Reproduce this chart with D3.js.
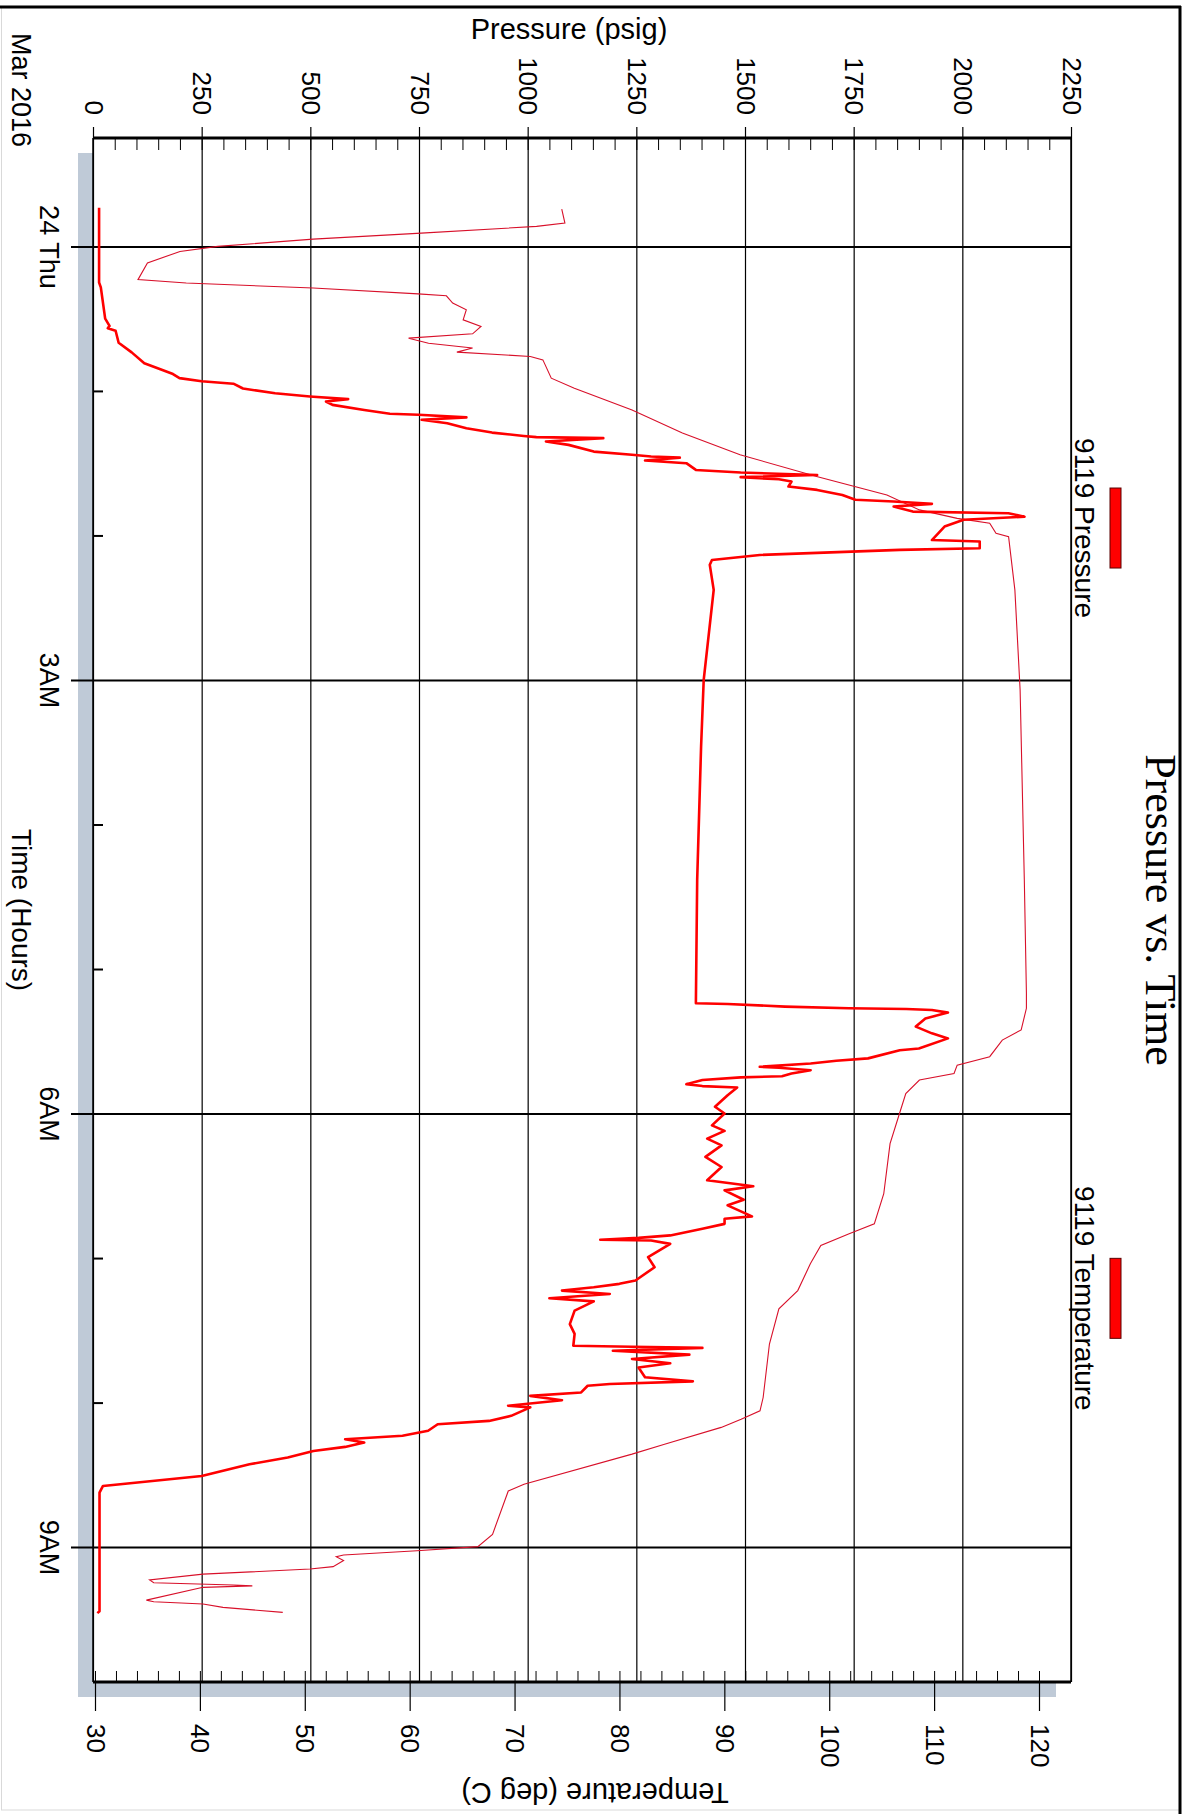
<!DOCTYPE html>
<html>
<head>
<meta charset="utf-8">
<script src="https://cdn.jsdelivr.net/npm/d3@7"></script>
<style>
body{margin:0;background:#fff;}
svg text{font-family:"Liberation Sans",Arial,sans-serif;fill:#000;}
</style>
</head>
<body>
<svg id="chart" width="1199" height="1814"></svg>
<script>
// time = minutes from midnight of 24 Mar 2016 (negative = still 23 Mar)
var pressureTime = [-16,15,17,30,33,34,35,40,44,48.5,51,53,54.7,56,57,59,61,62.3,63.4,64.4,65.8,67.9,69.5,69.9,71,72,73.4,75.5,77.3,78.7,79.2,79.6,81,82.4,85.2,86.5,87.2,87.7,88.9,90,92.8,93.9,94.9,95.8,96.7,97.6,99.7,101.1,103.2,105.2,105.9,106.9,108,110.1,110.8,112.2,113.5,116.3,121.9,122.5,125.3,126,128.1,130.2,132.2,142.6,180,207.5,262.9,314.2,314.5,315.6,316.3,316.6,317,318.1,320.5,323.9,326.7,328.8,333,333.7,337.1,338.1,339.2,340.6,341,342,343.4,344.5,345,346.1,347.8,348.6,349.2,352.4,357.2,360,364.9,367.2,370.4,373.2,378,382.2,387.7,390.2,391.9,395.8,398.1,402.7,403.7,405.8,407.8,410.6,411.6,412.4,412.7,414.1,419.6,423.8,429.3,430.7,432.1,433.5,434.9,436.7,438,441.8,447.4,451.5,456.4,456.8,457.3,458.5,460.1,461.9,463.7,465.4,469.5,471.2,472.3,473,475.8,477.2,479,481.3,482,485.5,487.6,489,491.7,493.8,495.2,496.6,498.4,500.1,502.8,505.6,510.5,514.6,517.4,566.6,567.4];
var pressurePsig = [14,14,18,28,38,34,52,59,89,118,155,184,199,250,323,345,419,499,587,536,551,624,683,749,859,756,815,859,918,991,1020,1174,1042,1094,1152,1240,1284,1350,1270,1365,1387,1490,1666,1490,1578,1607,1600,1666,1724,1754,1842,1930,1842,1886,2106,2143,2003,1959,1930,2040,2040,1856,1534,1424,1419,1428,1405,1399,1390,1387,1460,1592,1739,1871,1930,1967,1915,1893,1930,1967,1900,1856,1783,1710,1651,1534,1578,1651,1607,1585,1490,1402,1365,1402,1482,1460,1431,1453,1424,1453,1413,1446,1409,1446,1413,1519,1453,1497,1460,1516,1453,1453,1402,1328,1255,1167,1284,1328,1277,1292,1248,1211,1152,1079,1189,1050,1152,1108,1097,1108,1105,1240,1402,1196,1372,1240,1328,1255,1270,1380,1189,1138,1123,1006,1079,955,1006,962,911,793,771,712,580,624,580,507,448,360,250,23,15,15,10];

var tempTime = [-15.5,-9.7,-8.3,-5.5,-3,0,2.1,6.9,13.8,15.2,17.3,19.7,20.5,23.5,26.3,30.5,33.2,36.3,38.1,40.2,42.2,43.9,45.7,47.1,54.7,58.9,67.9,77.5,86.5,95.5,103.2,109.4,112.9,114.9,119.1,120.5,142.6,184.2,262.9,310.1,316.3,325.3,329.5,336.4,339.9,343.4,346.1,351.7,360,372.5,393.3,405.8,409.9,414.8,422.4,433.5,441.1,455.7,477.9,483.4,486.9,490.3,497.3,501.4,513.9,516.7,534.7,539.8,541.5,543.3,544,545.6,548.1,549.1,551.2,553.6,554.8,555.7,556.1,556.7,562,562.7,563.6,565,567.1];
var tempDegC = [74.5,74.8,72.1,61.1,50.8,41.7,38.1,35,34.1,38.7,50.8,60.8,63.5,64.1,65.4,65.1,66.8,66,59.9,61.8,66,64.5,71.5,72.7,73.5,75.7,81.2,86,91.5,98.8,105.5,108.6,112.2,115.3,115.9,117.1,117.7,118.2,118.6,118.8,118.8,118.3,116.5,115.3,112.2,111.9,108.6,107.3,106.7,105.8,105.2,104.3,101.9,99.2,98.2,97,95.2,94.3,93.7,93.4,91.6,89.7,84.3,81.2,70.9,69.4,67.9,66.5,60.7,53.7,53,53.7,52.7,50.5,40.3,35.2,35.6,43.2,45,40.3,34.9,35.6,40.3,42.2,47.9];

var timeTicks = [0,180,360,540];
var timeTickLabels = ["24 Thu","3AM","6AM","9AM"];
var hourTicks = [60,120,240,300,420,480];
var pressureTicks = d3.range(0,2251,250);
var tempTicks = d3.range(30,121,10);
var seriesNames = ["9119 Pressure","9119 Temperature"];

var svg = d3.select("#chart");
var pLeft = 93, pRight = 1071, pTop = 138, pBottom = 1682;
var fs = 26;

var xP = d3.scaleLinear().domain([0,2250]).range([pLeft,pRight]);
var xT = d3.scaleLinear().domain([30,120]).range([95,1039]);
var yT = d3.scaleLinear().domain([-45,596]).range([pTop,pBottom]);

// frame
svg.append("rect").attr("x",1.5).attr("y",7).attr("width",1178).attr("height",1803)
	.attr("fill","#fff").attr("stroke","#d9d9d9").attr("stroke-width",1);
svg.append("line").attr("x1",0).attr("x2",1181).attr("y1",7).attr("y2",7)
	.attr("stroke","#000").attr("stroke-width",3);
svg.append("line").attr("x1",1180).attr("x2",1180).attr("y1",6).attr("y2",1814)
	.attr("stroke","#000").attr("stroke-width",3);

// plot shadow + area
svg.append("rect").attr("x",pLeft-15).attr("y",pTop+15).attr("width",pRight-pLeft).attr("height",pBottom-pTop)
	.attr("fill","#bfcad7");
svg.append("rect").attr("x",pLeft).attr("y",pTop).attr("width",pRight-pLeft).attr("height",pBottom-pTop)
	.attr("fill","#fff");

function clean(g){
	g.select(".domain").remove();
	g.attr("font-family",null).attr("font-size",null);
}

// pressure grid lines
svg.append("g").attr("transform","translate(0,"+pTop+")")
	.call(d3.axisBottom(xP).tickValues(pressureTicks).tickSize(pBottom-pTop).tickFormat(""))
	.call(clean)
	.selectAll("line").attr("stroke","#000").attr("stroke-width",1.2);

// time grid lines (with tick out to the left)
svg.append("g").attr("transform","translate("+pRight+",0)")
	.call(d3.axisLeft(yT).tickValues(timeTicks).tickSize(pRight-pLeft+22).tickFormat(""))
	.call(clean)
	.selectAll("line").attr("stroke","#000").attr("stroke-width",2);

// hour minor ticks
svg.append("g").attr("transform","translate("+pLeft+",0)")
	.call(d3.axisRight(yT).tickValues(hourTicks).tickSize(10).tickFormat(""))
	.call(clean)
	.selectAll("line").attr("stroke","#000").attr("stroke-width",2);

// time labels
var gTime = svg.append("g").attr("transform","translate("+pLeft+",0)")
	.call(d3.axisLeft(yT).tickValues(timeTicks).tickSize(0).tickFormat(function(d,i){ return timeTickLabels[i]; }))
	.call(clean);
gTime.selectAll("text")
	.attr("x",null).attr("dy",null)
	.attr("transform","translate(-44,0) rotate(90)")
	.attr("text-anchor","middle").attr("dominant-baseline","central")
	.attr("font-size",27);

// pressure axis (top)
var gP = svg.append("g").attr("transform","translate(0,"+pTop+")")
	.call(d3.axisTop(xP).tickValues(pressureTicks).tickSize(11).tickFormat(d3.format("d")))
	.call(clean);
gP.selectAll("line").attr("stroke","#000").attr("stroke-width",1.2);
gP.selectAll("text")
	.attr("y",null).attr("dy",null)
	.attr("transform","translate(0,-23) rotate(90)")
	.attr("text-anchor","end").attr("dominant-baseline","central")
	.attr("font-size",fs);
svg.append("g").attr("transform","translate(0,"+pTop+")")
	.call(d3.axisBottom(xP).tickValues(d3.range(0,2251,50)).tickSize(12).tickFormat(""))
	.call(clean)
	.selectAll("line").attr("stroke","#000").attr("stroke-width",1);

// temperature axis (bottom)
var gT = svg.append("g").attr("transform","translate(0,"+pBottom+")")
	.call(d3.axisBottom(xT).tickValues(tempTicks).tickSize(29).tickFormat(d3.format("d")))
	.call(clean);
gT.selectAll("line").attr("stroke","#000").attr("stroke-width",1.2);
gT.selectAll("text")
	.attr("y",null).attr("dy",null)
	.attr("transform","translate(0,42) rotate(90)")
	.attr("text-anchor","start").attr("dominant-baseline","central")
	.attr("font-size",fs);
svg.append("g").attr("transform","translate(0,"+pBottom+")")
	.call(d3.axisTop(xT).tickValues(d3.range(30,121,2)).tickSize(11).tickFormat(""))
	.call(clean)
	.selectAll("line").attr("stroke","#000").attr("stroke-width",1);

// axis lines
svg.append("line").attr("x1",pLeft).attr("x2",pRight).attr("y1",pTop).attr("y2",pTop)
	.attr("stroke","#000").attr("stroke-width",3);
svg.append("line").attr("x1",pLeft).attr("x2",pRight).attr("y1",pBottom).attr("y2",pBottom)
	.attr("stroke","#000").attr("stroke-width",3);
svg.append("line").attr("x1",pLeft).attr("x2",pLeft).attr("y1",pTop).attr("y2",pBottom)
	.attr("stroke","#000").attr("stroke-width",1.5);
svg.append("line").attr("x1",pRight).attr("x2",pRight).attr("y1",pTop).attr("y2",pBottom)
	.attr("stroke","#000").attr("stroke-width",1.5);

// series
var pData = pressureTime.map(function(t,i){ return {t:t, v:pressurePsig[i]}; });
var tData = tempTime.map(function(t,i){ return {t:t, v:tempDegC[i]}; });

svg.append("path").datum(tData)
	.attr("fill","none").attr("stroke","#d8102a").attr("stroke-width",1.1)
	.attr("d", d3.line().x(function(d){ return xT(d.v); }).y(function(d){ return yT(d.t); }));
svg.append("path").datum(pData)
	.attr("fill","none").attr("stroke","#ff0000").attr("stroke-width",2.6)
	.attr("stroke-linejoin","round")
	.attr("d", d3.line().x(function(d){ return xP(d.v); }).y(function(d){ return yT(d.t); }));

// titles
svg.append("text").attr("x",569).attr("y",39).attr("text-anchor","middle")
	.attr("font-size",29).text("Pressure (psig)");
svg.append("text").attr("transform","translate(21,33) rotate(90)")
	.attr("text-anchor","start").attr("dominant-baseline","central")
	.attr("font-size",27).text("Mar 2016");
svg.append("text").attr("transform","translate(21,"+((pTop+pBottom)/2)+") rotate(90)")
	.attr("text-anchor","middle").attr("dominant-baseline","central")
	.attr("font-size",28).text("Time (Hours)");
svg.append("text").attr("transform","translate(595,1793) rotate(180)")
	.attr("text-anchor","middle").attr("dominant-baseline","central")
	.attr("font-size",29).text("Temperature (deg C)");
svg.append("text").attr("transform","translate(1160,"+((pTop+pBottom)/2)+") rotate(90)")
	.attr("text-anchor","middle").attr("dominant-baseline","central")
	.style("font-family","'Liberation Serif','Times New Roman',serif")
	.attr("font-size",44).text("Pressure vs. Time");

// legend
var legendStart = [438, 1186];
seriesNames.forEach(function(name,i){
	var t = svg.append("text").attr("transform","translate(1084,"+legendStart[i]+") rotate(90)")
		.attr("text-anchor","start").attr("dominant-baseline","central")
		.attr("font-size",28).text(name);
	var len = t.node().getComputedTextLength();
	svg.append("rect").attr("x",1110).attr("y",legendStart[i]+len/2-40).attr("width",11).attr("height",80)
		.attr("fill","#ff0000").attr("stroke","#5a0000").attr("stroke-width",1);
});
</script>
</body>
</html>
